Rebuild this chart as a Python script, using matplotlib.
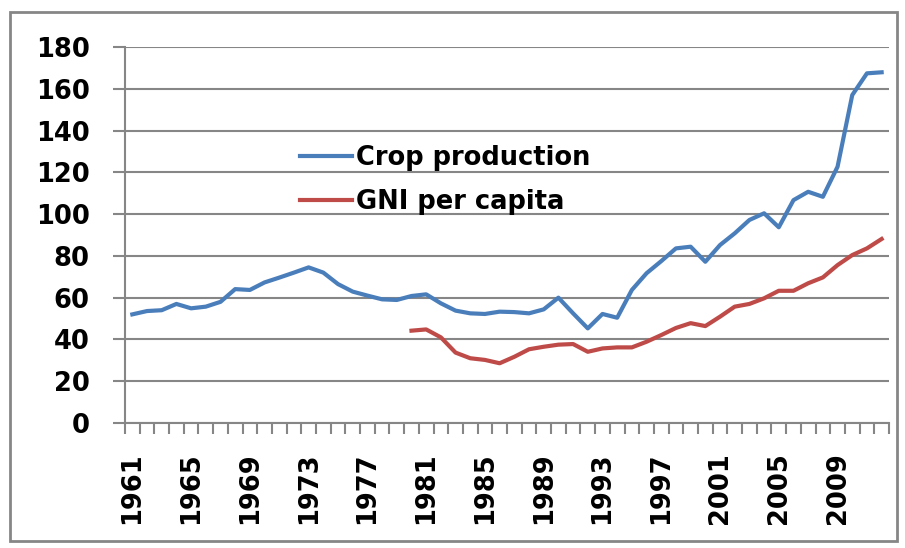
import matplotlib.pyplot as plt
from matplotlib.patches import Rectangle

# data
years = list(range(1961, 2013))
crop_production = [52, 53.6, 54, 57, 54.9, 55.7, 58, 64.1, 63.7, 67.3,
                   69.6, 72, 74.5, 72, 66.5, 62.9, 61, 59.2, 58.9, 60.8,
                   61.6, 57.3, 53.8, 52.5, 52.2, 53.3, 53.1, 52.5, 54.4, 60,
                   52.5, 45.3, 52.2, 50.4, 63.7, 71.7, 77.5, 83.6, 84.4, 77.2,
                   85.2, 90.8, 97.2, 100.4, 93.7, 106.7, 110.7, 108.3, 122.7, 157,
                   167.4, 167.9]
gni_years = list(range(1980, 2013))
gni_per_capita = [44.2, 44.8, 41, 33.7, 31, 30.2, 28.6, 31.7, 35.3, 36.5,
                  37.5, 37.8, 34.1, 35.7, 36.2, 36.2, 38.9, 42.1, 45.5, 47.8,
                  46.4, 50.9, 55.7, 57, 59.7, 63.3, 63.3, 66.9, 69.7, 75.6,
                  80.4, 83.6, 88.1]
label_years = list(range(1961, 2013, 4))
y_ticks = list(range(0, 181, 20))

grey = '#868686'
fsize = 18.5
plt.rcParams['font.family'] = 'DejaVu Sans'

fig = plt.figure(figsize=(9.05, 5.48), dpi=100)
ax = fig.add_axes([0.1381, 0.2281, 0.9823 - 0.1381, 0.9142 - 0.2281])

# outer chart border
fig.patches.append(Rectangle((10 / 905, 1 - 541 / 548), 887 / 905, 529 / 548,
                             transform=fig.transFigure, fill=False,
                             edgecolor=grey, linewidth=2))

ax.plot(years, crop_production, color='#4A7EBB', lw=3, label='Crop production')
ax.plot(gni_years, gni_per_capita, color='#BE4B48', lw=3, label='GNI per capita')

ax.set_xlim(1960.5, 2012.5)
ax.set_ylim(0, 180)
ax.set_yticks(y_ticks)
ax.set_yticklabels([str(v) for v in y_ticks], fontsize=fsize, fontweight='bold')
ax.yaxis.grid(True, color=grey, lw=1.5)
ax.set_axisbelow(True)

# category axis: tick marks between categories, labels every 4 years
ax.set_xticks([y - 0.5 for y in years] + [years[-1] + 0.5], minor=True)
ax.set_xticks(label_years)
ax.set_xticklabels([str(y) for y in label_years], rotation=90,
                   fontsize=fsize, fontweight='bold')
ax.tick_params(axis='x', which='major', length=0, pad=21)
ax.tick_params(axis='x', which='minor', length=8, width=1.5, color=grey)
ax.tick_params(axis='y', length=8.5, width=1.5, color=grey, pad=17)

for s in ['top', 'right']:
    ax.spines[s].set_visible(False)
for s in ['left', 'bottom']:
    ax.spines[s].set_color(grey)
    ax.spines[s].set_linewidth(1.5)

ax.legend(loc='upper left', bbox_to_anchor=(0.216, 0.766), frameon=False,
          prop={'size': fsize, 'weight': 'bold'}, handlelength=2.0,
          handletextpad=0.15, labelspacing=0.68, borderaxespad=0)

fig.savefig('out.png', dpi=100)
